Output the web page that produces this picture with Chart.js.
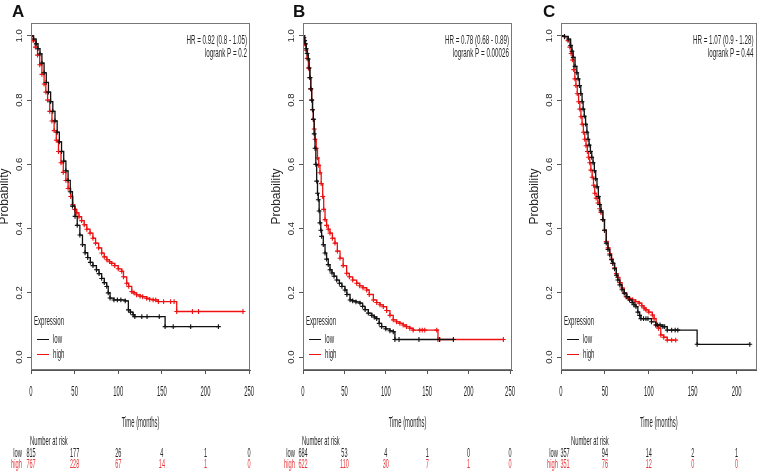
<!DOCTYPE html>
<html><head><meta charset="utf-8">
<script src="https://cdn.jsdelivr.net/npm/chart.js@4/dist/chart.umd.min.js"></script>
<style>
html,body{margin:0;padding:0;background:#fff;}
body{width:760px;height:476px;position:relative;overflow:hidden;}
canvas{position:absolute;top:0;}
</style></head><body>
<canvas id="cA" width="262" height="476" style="left:0px"></canvas>
<canvas id="cB" width="262" height="476" style="left:256px"></canvas>
<canvas id="cC" width="246" height="476" style="left:514px"></canvas>
<script>
// ---------- data (time in months, survival probability) ----------
const aLow = [[0,1],[3,0.99],[6,0.975],[8,0.96],[10.3,0.944],[12.5,0.915],[15,0.885],[17.5,0.855],[20,0.825],[22.5,0.795],[25,0.765],[27.5,0.735],[30,0.70],[32.5,0.67],[35,0.64],[37.5,0.61],[40,0.58],[42.5,0.55],[45,0.515],[47.5,0.47],[50.5,0.438],[53,0.41],[56,0.38],[59,0.35],[62,0.325],[65,0.31],[68,0.295],[71,0.285],[75,0.272],[78,0.26],[81,0.245],[84,0.232],[86.8,0.22],[88.5,0.2],[90.6,0.184],[95,0.178],[99,0.178],[103,0.178],[108,0.175],[111.6,0.147],[114,0.14],[117,0.132],[119,0.126],[127,0.126],[133,0.126],[147,0.126],[153.7,0.095],[163,0.095],[183,0.095],[214.8,0.095]];
const aHigh = [[0,1],[2.5,0.985],[5,0.965],[7.5,0.94],[10,0.91],[12.5,0.88],[15,0.85],[17,0.825],[19,0.80],[21.5,0.765],[24,0.735],[26.5,0.705],[29,0.675],[31.5,0.64],[34.4,0.605],[37,0.575],[40,0.55],[42.5,0.525],[45.5,0.50],[48,0.475],[50,0.46],[52.4,0.449],[55,0.437],[58,0.425],[61,0.412],[64,0.398],[67.7,0.386],[71,0.37],[74,0.355],[77.5,0.34],[81,0.324],[84,0.312],[87,0.303],[90,0.297],[92.5,0.292],[96,0.285],[100,0.275],[104,0.267],[106,0.25],[109.7,0.23],[112,0.22],[115.5,0.204],[118,0.2],[121,0.194],[125,0.19],[128,0.188],[132.6,0.183],[136,0.18],[140,0.178],[143,0.178],[146,0.173],[152,0.173],[160,0.173],[164,0.173],[167,0.142],[185,0.142],[192,0.142],[243,0.142]];
const bLow = [[0,1],[1,0.995],[2,0.985],[3,0.975],[4,0.96],[5,0.945],[6.4,0.928],[7.5,0.9],[8.5,0.87],[9.5,0.835],[10.5,0.80],[11.5,0.77],[12.5,0.74],[13.5,0.695],[14.5,0.65],[15.5,0.6],[16.5,0.548],[17.5,0.51],[18.5,0.49],[19.5,0.455],[20.5,0.418],[21.5,0.395],[22.5,0.376],[24.5,0.35],[26.6,0.324],[28.5,0.305],[30.5,0.288],[32.6,0.272],[35,0.262],[37.5,0.252],[40.7,0.24],[44,0.23],[47,0.22],[50.7,0.209],[53,0.195],[56.8,0.178],[60,0.175],[64,0.172],[68.8,0.168],[72,0.158],[75,0.148],[78.9,0.137],[83,0.13],[86,0.125],[89,0.12],[92,0.105],[95,0.095],[100,0.088],[105,0.082],[109,0.079],[111,0.055],[116,0.055],[140,0.055],[165,0.055],[181.6,0.055]];
const bHigh = [[0,1],[1,0.99],[2,0.975],[3.5,0.955],[5,0.93],[6.5,0.9],[8,0.87],[9.2,0.835],[10.5,0.80],[11.5,0.77],[12.5,0.74],[13.5,0.71],[14.5,0.678],[16,0.65],[17.5,0.62],[19,0.597],[20.5,0.574],[22,0.54],[23.8,0.50],[25,0.46],[26.6,0.428],[28.5,0.41],[30.5,0.398],[32.6,0.386],[35.5,0.37],[38.6,0.355],[41.5,0.33],[44.7,0.308],[48.5,0.285],[52.7,0.261],[56,0.25],[60,0.24],[64.8,0.23],[68.5,0.222],[72.5,0.216],[76.9,0.209],[80,0.195],[85,0.178],[89,0.17],[93,0.163],[97,0.157],[101,0.145],[105,0.13],[109,0.116],[113,0.11],[117,0.105],[121,0.1],[125,0.095],[129,0.09],[133,0.084],[141,0.084],[144,0.084],[147,0.084],[161.5,0.084],[163,0.055],[165,0.055],[242,0.055]];
const cLow = [[0,1],[4,0.998],[8.3,0.99],[11,0.97],[12.5,0.952],[13.9,0.933],[16,0.905],[18,0.885],[19.5,0.866],[21,0.845],[22.5,0.82],[24,0.795],[25.2,0.772],[26.5,0.75],[28,0.725],[29.5,0.70],[30.8,0.678],[32,0.66],[33.5,0.64],[35,0.622],[36.5,0.605],[38,0.58],[39.5,0.555],[41,0.53],[42.5,0.5],[44,0.475],[45.5,0.455],[47.7,0.428],[49.5,0.395],[51.5,0.355],[53.5,0.335],[55.5,0.318],[57.5,0.303],[59,0.292],[61,0.275],[63,0.255],[64.7,0.24],[67,0.225],[69.5,0.21],[72,0.199],[75,0.188],[78,0.178],[81,0.17],[83,0.163],[85.4,0.157],[87.5,0.14],[89.5,0.13],[91,0.12],[94,0.12],[96.7,0.12],[99,0.12],[103,0.11],[108,0.1],[110,0.1],[112.8,0.1],[116,0.095],[118,0.095],[121,0.084],[126,0.084],[130,0.084],[133,0.084],[155,0.04],[215,0.04]];
const cHigh = [[0,1],[4,0.997],[8,0.985],[10,0.965],[11.5,0.945],[13,0.925],[14.5,0.895],[15.8,0.866],[17,0.845],[18.5,0.82],[20,0.795],[21.4,0.772],[22.7,0.748],[24,0.725],[25.5,0.70],[27,0.678],[28.5,0.658],[30,0.64],[31.3,0.622],[32.7,0.605],[34,0.582],[35.5,0.56],[37,0.535],[38.4,0.51],[40,0.495],[42,0.48],[44,0.462],[45.5,0.45],[47.7,0.428],[49.5,0.395],[51.5,0.36],[53.5,0.34],[55.5,0.322],[57.5,0.305],[59,0.292],[61,0.278],[63,0.26],[64.7,0.248],[67,0.232],[69.5,0.215],[72,0.2],[74,0.188],[77,0.183],[81.5,0.178],[85,0.173],[89,0.168],[92,0.16],[94.5,0.153],[96.7,0.147],[100,0.14],[104,0.131],[106,0.12],[108.3,0.1],[111,0.09],[113.6,0.069],[117,0.062],[121,0.053],[126,0.053],[130.6,0.053]];

// axis ticks
const xTicksAB = [0, 50, 100, 150, 200, 250];
const xTicksC = [0, 50, 100, 150, 200];
const yTicks = [0, 0.2, 0.4, 0.6, 0.8, 1.0];

// number at risk (at the x tick times)
const aRiskLow = [815, 177, 26, 4, 1, 0];
const aRiskHigh = [767, 228, 67, 14, 1, 0];
const bRiskLow = [684, 53, 4, 1, 0, 0];
const bRiskHigh = [622, 110, 30, 7, 1, 0];
const cRiskLow = [357, 94, 14, 2, 1];
const cRiskHigh = [351, 76, 12, 0, 0];

const aStats = ['HR = 0.92 (0.8 - 1.05)', 'logrank P = 0.2'];
const bStats = ['HR = 0.78 (0.68 - 0.89)', 'logrank P = 0.00026'];
const cStats = ['HR = 1.07 (0.9 - 1.28)', 'logrank P = 0.44'];
const groupNames = ['low', 'high'];
const xTitle = 'Time (months)';

// ---------- styling ----------
const SANS = "'Liberation Sans', Arial, sans-serif";
const BLACK = '#111111';
const RED = '#ee1111';
const RED_TXT = '#e5383b';
const AXIS = '#555555';
const TXT = '#262626';

function sText(ctx, s, x, y, align, sx, color, size) {
  ctx.save();
  ctx.translate(x, y);
  ctx.scale(sx, 1);
  ctx.font = (size || 12) + 'px ' + SANS;
  ctx.textAlign = align;
  ctx.textBaseline = 'middle';
  ctx.fillStyle = color;
  ctx.fillText(s, 0, 0);
  ctx.restore();
}

const kmPlugin = {
  id: 'kmText',
  afterDraw(chart, args, o) {
    const ctx = chart.ctx, ca = chart.chartArea, xs = chart.scales.x;
    // frame
    ctx.save();
    ctx.strokeStyle = '#777';
    ctx.lineWidth = 1;
    ctx.strokeRect(Math.round(ca.left) + 0.5, Math.round(ca.top) + 0.5, Math.round(ca.right - ca.left) - 1, Math.round(ca.bottom - ca.top) - 1);
    // panel letter
    ctx.font = 'bold 17px ' + SANS;
    ctx.fillStyle = '#111';
    ctx.textAlign = 'left';
    ctx.textBaseline = 'alphabetic';
    ctx.fillText(o.letter, o.letterX, 17);
    ctx.restore();
    // x tick labels (condensed, at the scale's tick positions) and x title
    xs.ticks.forEach(t => {
      sText(ctx, String(Math.round(t.value)), xs.getPixelForValue(t.value), 392, 'center', 0.42, TXT, 14);
    });
    sText(ctx, xTitle, (ca.left + ca.right) / 2, 423, 'center', 0.42, TXT, 14);
    // stats
    sText(ctx, o.stats[0], ca.right - 3, 41, 'right', 0.5, TXT, 12.5);
    sText(ctx, o.stats[1], ca.right - 3, 54, 'right', 0.5, TXT, 12.5);
    // legend
    sText(ctx, 'Expression', ca.left + 3, 321, 'left', 0.45, TXT, 13.5);
    ctx.save();
    ctx.lineWidth = 1;
    ctx.strokeStyle = BLACK;
    ctx.beginPath(); ctx.moveTo(ca.left + 6, 339.5); ctx.lineTo(ca.left + 18, 339.5); ctx.stroke();
    ctx.strokeStyle = RED;
    ctx.beginPath(); ctx.moveTo(ca.left + 6, 354.5); ctx.lineTo(ca.left + 18, 354.5); ctx.stroke();
    ctx.restore();
    sText(ctx, groupNames[0], ca.left + 22, 339, 'left', 0.45, TXT, 13.5);
    sText(ctx, groupNames[1], ca.left + 22, 354, 'left', 0.45, TXT, 13.5);
    // number at risk
    sText(ctx, 'Number at risk', ca.left + o.nrDx, 441, 'left', 0.43, TXT, 13.5);
    sText(ctx, groupNames[0], ca.left + o.rowDx, 453, 'right', 0.43, TXT, 13.5);
    sText(ctx, groupNames[1], ca.left + o.rowDx, 464, 'right', 0.43, RED_TXT, 13.5);
    o.riskLow.forEach((v, i) => {
      const px = xs.getPixelForValue(o.riskTimes[i]) + (i === 0 ? o.firstDx : 0);
      sText(ctx, String(v), px, 453, 'center', 0.41, TXT, 13.5);
      sText(ctx, String(o.riskHigh[i]), px, 464, 'center', 0.41, RED_TXT, 13.5);
    });
  }
};

function toXY(pairs) { return pairs.map(p => ({x: p[0], y: p[1]})); }

function curve(label, pairs, color) {
  return {
    label: label,
    data: toXY(pairs),
    borderColor: color,
    backgroundColor: color,
    borderWidth: 1.3,
    stepped: 'before',
    fill: false,
    pointStyle: 'cross',
    pointRadius: 2.4,
    pointBorderWidth: 1.1,
    pointBorderColor: color,
    pointHoverRadius: 0
  };
}

function makePanel(id, p) {
  return new Chart(document.getElementById(id), {
    type: 'line',
    data: { datasets: [curve(groupNames[0], p.low, BLACK), curve(groupNames[1], p.high, RED)] },
    options: {
      responsive: false,
      animation: false,
      devicePixelRatio: 1,
      layout: { padding: { left: p.padLeft, right: p.padRight, top: 23, bottom: 0 } },
      plugins: {
        legend: { display: false },
        tooltip: { enabled: false },
        kmText: p.text
      },
      scales: {
        x: {
          type: 'linear', min: 0, max: p.xMax,
          afterBuildTicks: s => { s.ticks = p.xTicks.map(v => ({ value: v })); },
          afterFit: s => { s.height = 106; s.paddingLeft = 0; s.paddingRight = 0; },
          ticks: { display: false, autoSkip: false },
          grid: { display: true, drawOnChartArea: false, drawTicks: true, tickLength: 4, color: AXIS },
          border: { display: true, color: AXIS, width: 1 },
          title: { display: false }
        },
        y: {
          type: 'linear', min: -0.04, max: 1.04,
          afterBuildTicks: s => { s.ticks = yTicks.map(v => ({ value: v })); },
          afterFit: s => { s.width = 31; s.paddingTop = 0; s.paddingBottom = 0; },
          ticks: { autoSkip: false, minRotation: 90, maxRotation: 90,
                   crossAlign: 'center', padding: 1, color: TXT, font: { family: SANS, size: 9.5 },
                   callback: v => Number(v).toFixed(1) },
          grid: { display: true, drawOnChartArea: false, drawTicks: true, tickLength: 4, color: AXIS },
          border: { display: true, color: AXIS, width: 1 },
          title: { display: true, text: 'Probability', color: TXT, font: { family: SANS, size: 12, lineHeight: 1 },
                   padding: { top: -1, bottom: 0 } }
        }
      }
    },
    plugins: [kmPlugin]
  });
}

makePanel('cA', { low: aLow, high: aHigh, xMax: 251, xTicks: xTicksAB, padLeft: 0, padRight: 12,
  text: { letter: 'A', letterX: 12, stats: aStats, riskTimes: xTicksAB, riskLow: aRiskLow, riskHigh: aRiskHigh, nrDx: -1, rowDx: -9, firstDx: 0 } });
makePanel('cB', { low: bLow, high: bHigh, xMax: 252.4, xTicks: xTicksAB, padLeft: 16, padRight: 6,
  text: { letter: 'B', letterX: 37, stats: bStats, riskTimes: xTicksAB, riskLow: bRiskLow, riskHigh: bRiskHigh, nrDx: -1, rowDx: -8, firstDx: 0 } });
makePanel('cC', { low: cLow, high: cHigh, xMax: 222.6, xTicks: xTicksC, padLeft: 16, padRight: 2,
  text: { letter: 'C', letterX: 29, stats: cStats, riskTimes: xTicksC, riskLow: cRiskLow, riskHigh: cRiskHigh, nrDx: 10, rowDx: -3, firstDx: 4 } });
</script>
</body></html>
